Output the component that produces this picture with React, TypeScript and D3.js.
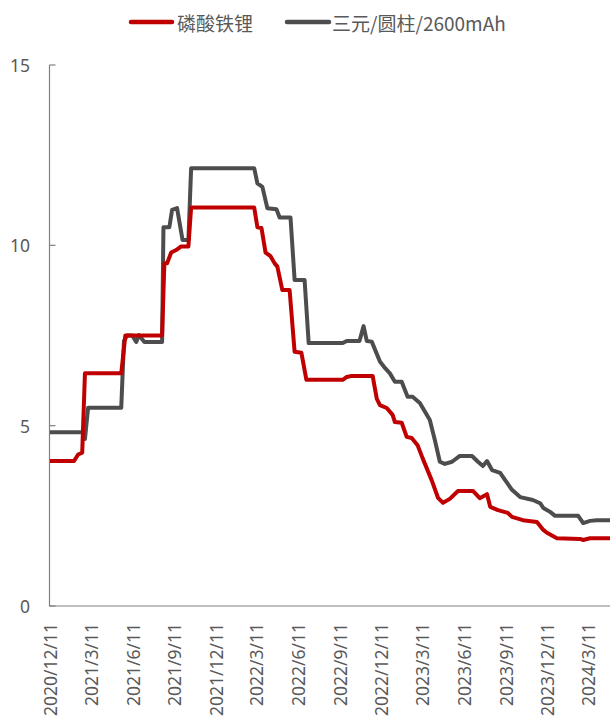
import React, { useEffect } from "react";
import * as d3 from "d3";

const seriesNames = ["磷酸铁锂", "三元/圆柱/2600mAh"];
const seriesColors = ["#C00000", "#4D4D4F"];

const lfpDates = [
  "2020-12-11", "2021-02-02", "2021-02-11", "2021-02-20", "2021-02-26", "2021-05-17", "2021-05-26",
  "2021-08-15", "2021-08-20", "2021-08-26", "2021-09-04", "2021-09-15", "2021-09-26", "2021-10-12",
  "2021-10-18", "2022-03-06", "2022-03-13", "2022-03-22", "2022-03-31", "2022-04-11", "2022-04-20",
  "2022-04-26", "2022-05-07", "2022-05-23", "2022-06-03", "2022-06-18", "2022-06-29", "2022-09-17",
  "2022-09-26", "2022-10-07", "2022-11-22", "2022-12-01", "2022-12-08", "2022-12-23", "2023-01-05",
  "2023-01-10", "2023-01-25", "2023-02-05", "2023-02-16", "2023-03-01", "2023-03-12", "2023-04-01",
  "2023-04-15", "2023-04-26", "2023-05-11", "2023-05-29", "2023-07-01", "2023-07-16", "2023-08-01",
  "2023-08-08", "2023-08-25", "2023-09-16", "2023-09-25", "2023-10-19", "2023-11-19", "2023-12-03",
  "2023-12-11", "2024-01-02", "2024-02-22", "2024-02-29", "2024-03-15", "2024-04-28",
];
const lfpValues = [
  4.02, 4.02, 4.2, 4.25, 6.45, 6.45, 7.5,
  7.5, 9.5, 9.5, 9.8, 9.87, 9.97, 9.97,
  11.05, 11.05, 10.5, 10.48, 9.8, 9.7, 9.5,
  9.41, 8.76, 8.76, 7.05, 7.02, 6.27, 6.27,
  6.35, 6.38, 6.38, 5.75, 5.57, 5.49, 5.3,
  5.1, 5.08, 4.69, 4.66, 4.46, 4.1, 3.49,
  3.0, 2.86, 2.97, 3.19, 3.19, 2.99, 3.1,
  2.75, 2.66, 2.58, 2.47, 2.38, 2.33, 2.11,
  2.03, 1.88, 1.86, 1.83, 1.88, 1.88,
];

const nmcDates = [
  "2020-12-11", "2021-02-22", "2021-02-26", "2021-03-05", "2021-05-17", "2021-05-23", "2021-05-30",
  "2021-06-10", "2021-06-19", "2021-06-25", "2021-07-07", "2021-08-15", "2021-08-18", "2021-08-31",
  "2021-09-06", "2021-09-17", "2021-09-29", "2021-10-12", "2021-10-18", "2022-03-06", "2022-03-13",
  "2022-03-24", "2022-04-04", "2022-04-24", "2022-05-01", "2022-05-25", "2022-06-03", "2022-06-25",
  "2022-07-04", "2022-09-17", "2022-09-26", "2022-10-24", "2022-11-02", "2022-11-09", "2022-11-20",
  "2022-12-08", "2022-12-19", "2022-12-30", "2023-01-10", "2023-01-25", "2023-02-07", "2023-02-18",
  "2023-03-06", "2023-03-28", "2023-04-08", "2023-04-19", "2023-04-30", "2023-05-16", "2023-06-02",
  "2023-06-29", "2023-07-12", "2023-07-23", "2023-08-01", "2023-08-12", "2023-08-30", "2023-09-10",
  "2023-09-25", "2023-10-13", "2023-11-10", "2023-11-26", "2023-12-03", "2023-12-18", "2023-12-29",
  "2024-02-18", "2024-02-29", "2024-03-15", "2024-03-30", "2024-04-28",
];
const nmcValues = [
  4.82, 4.82, 4.63, 5.5, 5.5, 7.35, 7.5,
  7.5, 7.32, 7.51, 7.32, 7.32, 10.5, 10.5,
  10.98, 11.03, 10.15, 10.15, 12.14, 12.14, 11.72,
  11.62, 11.03, 11.0, 10.77, 10.77, 9.04, 9.04,
  7.29, 7.29, 7.35, 7.35, 7.76, 7.35, 7.33,
  6.78, 6.6, 6.45, 6.22, 6.22, 5.8, 5.8,
  5.63, 5.16, 4.6, 4.0, 3.94, 4.0, 4.16,
  4.16, 4.0, 3.88, 4.02, 3.77, 3.69, 3.49,
  3.22, 3.02, 2.94, 2.85, 2.72, 2.61, 2.5,
  2.5, 2.3, 2.36, 2.38, 2.38,
];

const xTickLabels = [
  "2020/12/11", "2021/3/11", "2021/6/11", "2021/9/11", "2021/12/11", "2022/3/11", "2022/6/11",
  "2022/9/11", "2022/12/11", "2023/3/11", "2023/6/11", "2023/9/11", "2023/12/11", "2024/3/11",
];
const yTicks = [0, 5, 10, 15];
const xDomain = ["2020-12-11", "2024-04-28"];

const W = 610;
const H = 717;

export default function App() {
  useEffect(() => {
    document.body.style.margin = "0";
  }, []);

  const parseISO = d3.timeParse("%Y-%m-%d");
  const parseLabel = d3.timeParse("%Y/%m/%d");
  const x = d3
    .scaleTime()
    .domain([parseISO(xDomain[0])!, parseISO(xDomain[1])!])
    .range([50, 610]);
  const y = d3.scaleLinear().domain([0, 15]).range([606, 65]);

  const line = d3
    .line<[Date, number]>()
    .x((d) => x(d[0]))
    .y((d) => y(d[1]));

  const lfp: [Date, number][] = lfpDates.map((d, i) => [parseISO(d)!, lfpValues[i]]);
  const nmc: [Date, number][] = nmcDates.map((d, i) => [parseISO(d)!, nmcValues[i]]);

  const axisColor = "#808080";
  const textColor = "#595959";
  const tickFont = "'Noto Sans', 'Noto Sans CJK SC', sans-serif";
  const legendFont = "'Noto Sans CJK SC', 'Noto Sans', sans-serif";
  const axisX = 49.5;

  return (
    <svg width={W} height={H} style={{ display: "block", background: "#fff" }}>
      {/* legend */}
      <g fontFamily={legendFont} fontSize={19} fill={textColor}>
        <line x1={131} x2={172} y1={22} y2={22} stroke={seriesColors[0]} strokeWidth={4.5} strokeLinecap="round" />
        <text x={177} y={22} dominantBaseline="central">{seriesNames[0]}</text>
        <line x1={287} x2={329} y1={22} y2={22} stroke={seriesColors[1]} strokeWidth={4.5} strokeLinecap="round" />
        <text x={332} y={22} dominantBaseline="central">{seriesNames[1]}</text>
      </g>

      {/* y axis */}
      <line x1={axisX} x2={axisX} y1={y(15)} y2={y(0)} stroke={axisColor} strokeWidth={1.2} />
      {yTicks.map((t) => (
        <g key={t}>
          <line x1={axisX} x2={axisX + 6} y1={y(t)} y2={y(t)} stroke={axisColor} strokeWidth={1.2} />
          <text
            x={30}
            y={y(t)}
            textAnchor="end"
            dominantBaseline="central"
            fontFamily={tickFont}
            fontSize={17.5}
            fill={textColor}
          >
            {t}
          </text>
        </g>
      ))}

      {/* x axis */}
      <line x1={axisX - 0.6} x2={610} y1={y(0)} y2={y(0)} stroke={axisColor} strokeWidth={1.2} />
      {xTickLabels.map((lbl) => {
        const px = x(parseLabel(lbl)!);
        return (
          <text
            key={lbl}
            transform={`translate(${px},623) rotate(-90)`}
            textAnchor="end"
            dominantBaseline="central"
            fontFamily={tickFont}
            fontSize={17.5}
            fill={textColor}
          >
            {lbl}
          </text>
        );
      })}

      {/* series */}
      <path d={line(nmc) || ""} fill="none" stroke={seriesColors[1]} strokeWidth={4} strokeLinejoin="round" />
      <path d={line(lfp) || ""} fill="none" stroke={seriesColors[0]} strokeWidth={4} strokeLinejoin="round" />
    </svg>
  );
}
